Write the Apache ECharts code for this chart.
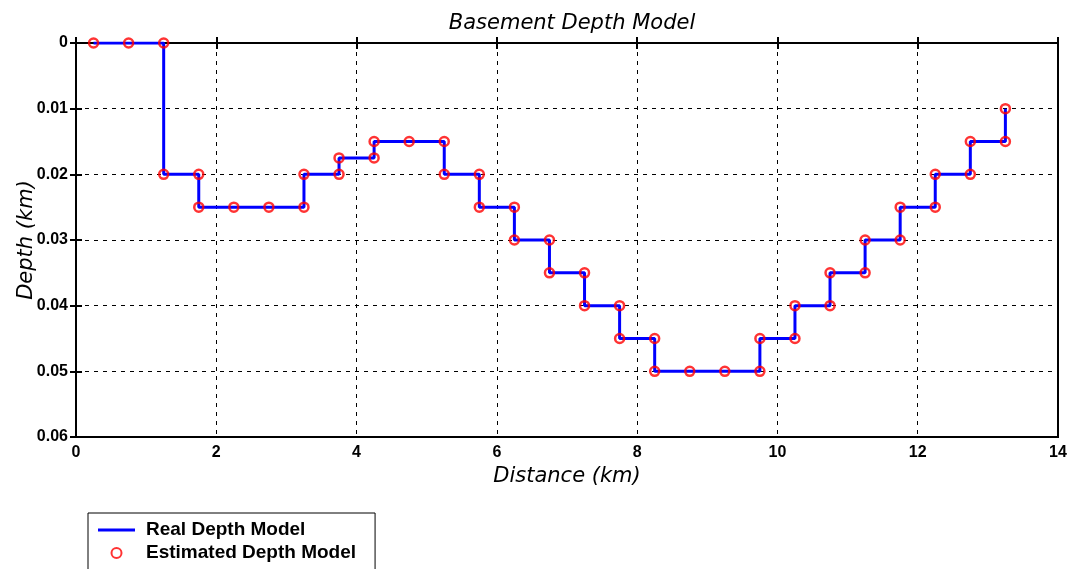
<!DOCTYPE html>
<html>
<head>
<meta charset="utf-8">
<script src="https://cdn.jsdelivr.net/npm/echarts@6/dist/echarts.min.js"></script>
<style>
  html, body { margin: 0; padding: 0; background: #fff; }
  #chart { width: 1073px; height: 569px; }
</style>
</head>
<body>
<div id="chart"></div>
<script>
// Basement profile vertices: distance (km) and depth (km)
const realDistance = [0.25, 0.75, 1.25, 1.25, 1.75, 1.75, 2.25, 2.75, 3.25, 3.25, 3.75, 3.75, 4.25, 4.25, 4.75, 5.25, 5.25, 5.75, 5.75, 6.25, 6.25, 6.75, 6.75, 7.25, 7.25, 7.75, 7.75, 8.25, 8.25, 8.75, 9.25, 9.75, 9.75, 10.25, 10.25, 10.75, 10.75, 11.25, 11.25, 11.75, 11.75, 12.25, 12.25, 12.75, 12.75, 13.25, 13.25];
const realDepth = [0, 0, 0, 0.02, 0.02, 0.025, 0.025, 0.025, 0.025, 0.02, 0.02, 0.0175, 0.0175, 0.015, 0.015, 0.015, 0.02, 0.02, 0.025, 0.025, 0.03, 0.03, 0.035, 0.035, 0.04, 0.04, 0.045, 0.045, 0.05, 0.05, 0.05, 0.05, 0.045, 0.045, 0.04, 0.04, 0.035, 0.035, 0.03, 0.03, 0.025, 0.025, 0.02, 0.02, 0.015, 0.015, 0.01];

// Inverted estimates at the same stations
const estDistance = [0.25, 0.75, 1.25, 1.25, 1.75, 1.75, 2.25, 2.75, 3.25, 3.25, 3.75, 3.75, 4.25, 4.25, 4.75, 5.25, 5.25, 5.75, 5.75, 6.25, 6.25, 6.75, 6.75, 7.25, 7.25, 7.75, 7.75, 8.25, 8.25, 8.75, 9.25, 9.75, 9.75, 10.25, 10.25, 10.75, 10.75, 11.25, 11.25, 11.75, 11.75, 12.25, 12.25, 12.75, 12.75, 13.25, 13.25];
const estDepth = [0, 0, 0, 0.02, 0.02, 0.025, 0.025, 0.025, 0.025, 0.02, 0.02, 0.0175, 0.0175, 0.015, 0.015, 0.015, 0.02, 0.02, 0.025, 0.025, 0.03, 0.03, 0.035, 0.035, 0.04, 0.04, 0.045, 0.045, 0.05, 0.05, 0.05, 0.05, 0.045, 0.045, 0.04, 0.04, 0.035, 0.035, 0.03, 0.03, 0.025, 0.025, 0.02, 0.02, 0.015, 0.015, 0.01];

const seriesNames = ['Real Depth Model', 'Estimated Depth Model'];

const LABEL_FONT = '"Liberation Sans", Arial, sans-serif';
const NAME_FONT = '"DejaVu Sans", sans-serif';

// Plain line swatch: a 3px bar centred in a 37x10 box (hairline corners keep the box size)
const LINE_ICON = 'path://M0,0 L37,0 L37,0.01 L0,0.01 Z M0,3.5 L37,3.5 L37,6.5 L0,6.5 Z M0,9.99 L37,9.99 L37,10 L0,10 Z';

const chart = echarts.init(document.getElementById('chart'), null, { renderer: 'canvas' });

const zip = (xs, ys) => xs.map((x, i) => [x, ys[i]]);

const tickStyle = { show: true, inside: true, length: 6, lineStyle: { color: '#000', width: 2 } };
const gridLine = { show: true, lineStyle: { color: '#000', type: [4, 5], width: 1 } };

chart.setOption({
  backgroundColor: '#fff',
  animation: false,
  title: {
    text: 'Basement Depth Model',
    left: 567,
    textAlign: 'center',
    top: 8,
    textStyle: { fontFamily: NAME_FONT, fontStyle: 'italic', fontWeight: 'normal', fontSize: 21, color: '#000' }
  },
  grid: {
    left: 76, right: 15, top: 43, bottom: 132,
    outerBoundsMode: 'none',
    containLabel: false,
    show: true, borderColor: '#000', borderWidth: 2, backgroundColor: '#fff'
  },
  legend: {
    orient: 'vertical',
    left: 88, top: 513, height: 90,
    itemWidth: 37, itemHeight: 10, itemGap: 3,
    padding: [7, 19, 10, 10],
    borderColor: '#000', borderWidth: 1,
    textStyle: { fontFamily: LABEL_FONT, fontWeight: 'bold', fontSize: 19, lineHeight: 20, color: '#000', padding: [0, 0, 0, 6] },
    data: [
      { name: seriesNames[0], icon: LINE_ICON },
      { name: seriesNames[1], icon: 'circle' }
    ]
  },
  xAxis: [{
    type: 'value', min: 0, max: 14, interval: 2,
    name: 'Distance (km)', nameLocation: 'middle', nameGap: 29,
    nameMoveOverlap: false,
    nameTextStyle: { fontFamily: NAME_FONT, fontStyle: 'italic', fontSize: 21, color: '#000' },
    axisLine: { show: true, lineStyle: { color: '#000', width: 2 } },
    axisTick: tickStyle,
    axisLabel: { color: '#000', fontFamily: LABEL_FONT, fontWeight: 'bold', fontSize: 16, margin: 8 },
    splitLine: gridLine
  }, {
    type: 'value', min: 0, max: 14, interval: 2, position: 'top',
    axisLine: { show: false }, axisTick: tickStyle, axisLabel: { show: false }, splitLine: { show: false }
  }],
  yAxis: [{
    type: 'value', min: 0, max: 0.06, interval: 0.01, inverse: true,
    name: 'Depth (km)', nameLocation: 'middle', nameGap: 39, nameRotate: 90,
    nameMoveOverlap: false,
    nameTextStyle: { fontFamily: NAME_FONT, fontStyle: 'italic', fontSize: 21, color: '#000' },
    axisLine: { show: true, lineStyle: { color: '#000', width: 2 } },
    axisTick: tickStyle,
    axisLabel: {
      color: '#000', fontFamily: LABEL_FONT, fontWeight: 'bold', fontSize: 16, margin: 8,
      formatter: v => String(Number(v.toFixed(3)))
    },
    splitLine: gridLine
  }, {
    type: 'value', min: 0, max: 0.06, interval: 0.01, inverse: true, position: 'right',
    axisLine: { show: false }, axisTick: tickStyle, axisLabel: { show: false }, splitLine: { show: false }
  }],
  series: [{
    name: seriesNames[0],
    type: 'line',
    data: zip(realDistance, realDepth),
    showSymbol: false,
    symbol: 'none',
    lineStyle: { color: '#0000ff', width: 3 },
    itemStyle: { color: '#0000ff' },
    z: 3
  }, {
    name: seriesNames[1],
    type: 'scatter',
    data: zip(estDistance, estDepth),
    symbol: 'circle',
    symbolSize: 9,
    itemStyle: { color: 'rgba(0,0,0,0)', borderColor: '#ff0000', borderWidth: 2.5 },
    z: 4
  }]
});
</script>
</body>
</html>
